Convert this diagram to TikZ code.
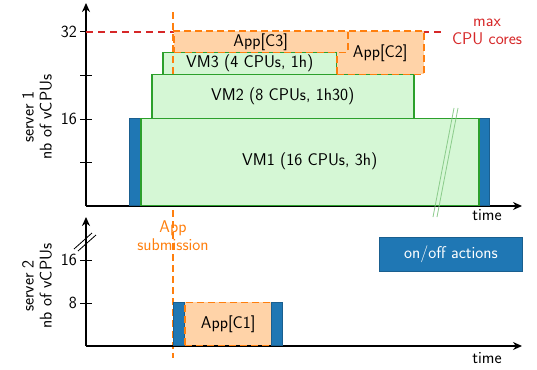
\documentclass[tikz,border=0pt]{standalone}
\usepackage{fontspec}
\usetikzlibrary{arrows.meta}
\definecolor{vmgreen}{HTML}{2CA02C}
\definecolor{vmfill}{HTML}{D5F7D5}
\definecolor{apporange}{HTML}{FF7F0E}
\definecolor{appfill}{HTML}{FFD3A8}
\definecolor{onblue}{HTML}{1F77B4}
\definecolor{onbluedark}{HTML}{1A5F8F}
\definecolor{maxred}{HTML}{D62728}
\begin{document}
\begin{tikzpicture}[x=1pt,y=-1pt,
  txt/.style={font=\sffamily\fontsize{17}{18}\selectfont, inner sep=0pt},
  axis/.style={line width=1.5pt,-{Stealth[length=9pt,width=8pt]}},
  tick/.style={line width=1pt},
  vmbox/.style={txt, draw=vmgreen, fill=vmfill, line width=1.5pt, anchor=south west},
  appbox/.style={txt, draw=apporange, fill=appfill, line width=1.5pt, dash pattern=on 7pt off 4pt, anchor=south west},
  onoff/.style={fill=onblue, draw=onbluedark, line width=1pt, anchor=south west, inner sep=0pt},
  brk/.style={draw=vmgreen!55, line width=0.8pt}
]
\useasboundingbox (0,0) rectangle (537,369);

% ---------- server 1 ----------
\coordinate (o1) at (86,206);
\coordinate (y1) at (86,3);
\coordinate (x1) at (522,206);
\draw[axis] (o1) -- (y1);
\draw[axis] (o1) -- (x1);
\foreach \yy in {32,75,119,162} \draw[tick] (80,\yy) -- (92,\yy);
\node[txt, anchor=east] (t32) at (77,32) {32};
\node[txt, anchor=east] (t16) at (77,119) {16};
\node[txt, rotate=90, align=center] (lab1) at (37,117) {server 1\\nb of vCPUs};
\node[txt] (time1) at (487,215) {time};

% max line
\coordinate (m0) at (86,32);
\coordinate (m1) at (445,32);
\draw[maxred, line width=1.5pt, dash pattern=on 7pt off 5pt] (m0) -- (m1);
\node[txt, text=maxred, align=center] (maxl) at (487,32) {max\\CPU cores};

% VM3 (under the submission line)
\node[vmbox, minimum width=174pt, minimum height=22pt] (vm3) at (162,75) {VM3 (4 CPUs, 1h)};

% submission line
\coordinate (s0) at (173,12);
\coordinate (s1) at (173,358);
\draw[apporange, line width=1.5pt, dash pattern=on 7pt off 4pt] (s0) -- (s1);
\node[txt, text=apporange, align=center] (sub) at (173,236) {App\\submission};

% blue on/off bars server 1
\node[onoff, minimum width=11pt, minimum height=87pt] (b1) at (129,206) {};
\node[onoff, minimum width=11pt, minimum height=87pt] (b2) at (478,206) {};

% VMs
\node[vmbox, minimum width=338pt, minimum height=87pt] (vm1) at (140,206) {VM1 (16 CPUs, 3h)};
\node[vmbox, minimum width=262pt, minimum height=44pt] (vm2) at (151,119) {VM2 (8 CPUs, 1h30)};

% apps server 1
\node[appbox, minimum width=87pt, minimum height=43pt] (c2) at (336,75) {App[C2]};
\node[appbox, minimum width=174pt, minimum height=21pt] (c3) at (173,53) {App[C3]};

% break marks
\coordinate (k1a) at (433,217); \coordinate (k1b) at (454,108);
\coordinate (k2a) at (437,217); \coordinate (k2b) at (458,108);
\draw[brk] (k1a) -- (k1b);
\draw[brk] (k2a) -- (k2b);

% ---------- server 2 ----------
\coordinate (o2) at (86,346);
\coordinate (y2) at (86,217);
\coordinate (x2) at (522,346);
\draw[axis] (o2) -- (y2);
\draw[axis] (o2) -- (x2);
\foreach \yy in {260,303} \draw[tick] (80,\yy) -- (92,\yy);
\node[txt, anchor=east] (s16) at (77,260) {16};
\node[txt, anchor=east] (s8) at (77,303) {8};
\node[txt, rotate=90, align=center] (lab2) at (37,286) {server 2\\nb of vCPUs};
\node[txt] (time2) at (487,358) {time};
\coordinate (z1a) at (74,249); \coordinate (z1b) at (92,233);
\coordinate (z2a) at (78,251); \coordinate (z2b) at (96,235);
\draw[line width=0.8pt] (z1a) -- (z1b);
\draw[line width=0.8pt] (z2a) -- (z2b);

\node[onoff, minimum width=11pt, minimum height=43pt] (b3) at (173,346) {};
\node[appbox, minimum width=87pt, minimum height=43pt] (c1) at (184,346) {App[C1]};
\node[onoff, minimum width=11pt, minimum height=43pt] (b4) at (271,346) {};

% legend
\node[onoff, minimum width=143pt, minimum height=34pt, txt, text=white] (leg) at (379,272) {on/off actions};
\end{tikzpicture}
\end{document}
